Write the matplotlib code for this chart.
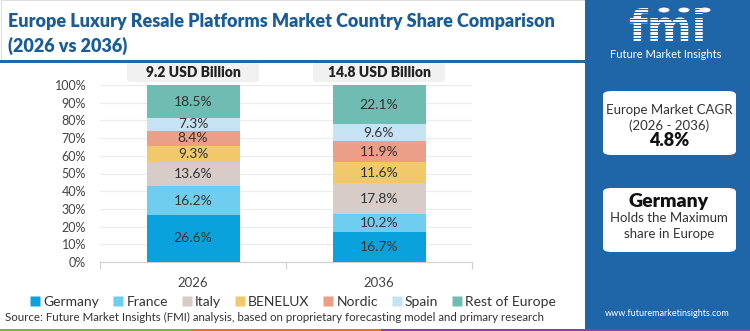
import matplotlib
matplotlib.use("Agg")
import matplotlib.pyplot as plt
from matplotlib.patches import FancyBboxPatch, Rectangle, Circle
from matplotlib.lines import Line2D
import numpy as np

# ---------------- data ----------------
years = ["2026", "2036"]
market_sizes = ["9.2 USD Billion", "14.8 USD Billion"]
segments = ["Germany", "France", "Italy", "BENELUX", "Nordic", "Spain", "Rest of Europe"]
germany = [26.6, 16.7]
france = [16.2, 10.2]
italy = [13.6, 17.8]
benelux = [9.3, 11.6]
nordic = [8.4, 11.9]
spain = [7.3, 9.6]
rest_of_europe = [18.5, 22.1]
series = [germany, france, italy, benelux, nordic, spain, rest_of_europe]
colors = ["#0aa2dc", "#6fcdf0", "#d7ccc8", "#f1c86a", "#ec9f88", "#c6e3f4", "#6fbcb3"]
yticks = list(range(0, 101, 10))
cagr_text = "4.8%"
leader = "Germany"

W, H = 750, 331
FONT = "Lato"
plt.rcParams["font.family"] = [FONT, "DejaVu Sans"]

fig = plt.figure(figsize=(W / 100, H / 100), dpi=100)
fig.patch.set_facecolor("white")


def fx(x):
    return x / W


def fy(y):
    return 1 - y / H


# ---------------- background decorations ----------------
fig.add_artist(Rectangle((fx(0.5), fy(60)), fx(585), 60 / H, transform=fig.transFigure,
                         facecolor="white", edgecolor="#dddddd", lw=0.8, zorder=0))
fig.add_artist(Rectangle((fx(0), fy(63)), fx(585), 3 / H, transform=fig.transFigure,
                         facecolor="#1d6aa5", edgecolor="none", zorder=1))
for x0, x1, c in [(0, 191, "#7cb342"), (191, 381, "#ee6a2f"), (381, 586, "#8e3fa0")]:
    fig.add_artist(Rectangle((fx(x0), 0), fx(x1 - x0), 2.5 / H, transform=fig.transFigure,
                             facecolor=c, edgecolor="none", zorder=1))
panel_blue = "#1f66a8"
fig.add_artist(Rectangle((fx(585), fy(329)), fx(165), 329 / H, transform=fig.transFigure,
                         facecolor=panel_blue, edgecolor="none", zorder=1))
fig.add_artist(Rectangle((fx(586), 0), fx(164), 2.5 / H, transform=fig.transFigure,
                         facecolor="#8e3fa0", edgecolor="none", zorder=1))

# ---------------- title ----------------
title_color = "#1a5d96"
fig.text(fx(8), fy(21), "Europe Luxury Resale Platforms Market Country Share Comparison",
         fontsize=13, fontweight="heavy", color=title_color, va="center", ha="left")
fig.text(fx(8), fy(46), "(2026 vs 2036)",
         fontsize=13, fontweight="heavy", color=title_color, va="center", ha="left")

# ---------------- chart ----------------
ax_left, ax_right = 100, 472
ax_top, ax_bottom = 85, 262
ax = fig.add_axes([fx(ax_left), fy(ax_bottom), fx(ax_right - ax_left), (ax_bottom - ax_top) / H])
x = np.arange(len(years))
bottom = np.zeros(len(years))
for name, vals, c in zip(segments, series, colors):
    vals = np.array(vals)
    ax.bar(x, vals, width=0.5, bottom=bottom, color=c, label=name, zorder=3)
    for xi, b, v in zip(x, bottom, vals):
        ax.text(xi, b + v / 2, f"{v:.1f}%", ha="center", va="center",
                fontsize=10, color="#333333", zorder=4)
    bottom += vals

ax.set_xlim(-0.5, 1.5)
ax.set_ylim(0, 100)
ax.set_yticks(yticks)
ax.set_yticklabels([f"{t}%" for t in yticks])
ax.set_xticks(x)
ax.set_xticklabels(years)
ax.set_xticks([-0.5, 0.5, 1.5], minor=True)
ax.tick_params(axis="y", length=0, pad=10, labelsize=9, labelcolor="#444444")
ax.tick_params(axis="x", which="major", length=0, pad=11, labelsize=9.5, labelcolor="#444444")
ax.tick_params(axis="x", which="minor", length=5, color="#d0d0d0", width=0.8)
ax.grid(axis="y", color="#ececec", lw=0.8, zorder=0)
for s in ["left", "right", "top"]:
    ax.spines[s].set_visible(False)
ax.spines["bottom"].set_color("#d0d0d0")
ax.patch.set_alpha(0)

# market size header boxes
for xi, label in zip(x, market_sizes):
    xc_px = ax.transData.transform((xi, 0))[0]
    bw, bh = 132, 19
    box = FancyBboxPatch((fx(xc_px - bw / 2), fy(82)), fx(bw), bh / H,
                         boxstyle="round,pad=0,rounding_size=0.006",
                         transform=fig.transFigure, facecolor="#f1f1f1",
                         edgecolor="none", zorder=2)
    fig.add_artist(box)
    fig.text(fx(xc_px), fy(72.5), label, ha="center", va="center", fontsize=10,
             fontweight="heavy", color="#222222")

# legend
handles = [Line2D([0], [0], marker="s", ls="none", markersize=7, markerfacecolor=c,
                  markeredgecolor="none") for c in colors]
fig.legend(handles, segments, loc="center", bbox_to_anchor=(fx(294), fy(302)), ncol=7,
           frameon=False, fontsize=10, handlelength=0.5, handletextpad=0.35,
           columnspacing=1.1, labelcolor="#333333", borderpad=0, borderaxespad=0)

# source
fig.text(fx(5), fy(317), "Source: Future Market Insights (FMI) analysis, based on proprietary "
         "forecasting model and primary research", fontsize=8.3, color="#333333",
         ha="left", va="center")

# ---------------- right panel content ----------------
fig.text(fx(667), fy(41), "fmi", fontsize=31, fontweight="heavy", color="white",
         ha="center", va="baseline", zorder=5, family="DejaVu Sans")
for yy in np.arange(9, 44, 3.2):
    fig.add_artist(Line2D([fx(605), fx(730)], [fy(yy), fy(yy)], transform=fig.transFigure,
                          color=panel_blue, lw=0.8, zorder=6))
for cx in [664, 684, 705]:
    fig.add_artist(Circle((fx(cx), fy(10)), 5.5 / W, transform=fig.transFigure,
                          facecolor="white", edgecolor="none", zorder=7))
fig.text(fx(666), fy(55), "Future Market Insights", fontsize=8, color="white",
         ha="center", va="center", zorder=7)

for (y0, y1) in [(91, 155), (188, 252)]:
    fig.add_artist(FancyBboxPatch((fx(603), fy(y1)), fx(133), (y1 - y0) / H,
                                  boxstyle="round,pad=0,rounding_size=0.012",
                                  transform=fig.transFigure, facecolor="white",
                                  edgecolor="none", zorder=5))
fig.text(fx(669), fy(110), "Europe Market CAGR", fontsize=9.5, color="#333333",
         ha="center", va="center", zorder=6)
fig.text(fx(669), fy(126), "(2026 - 2036)", fontsize=9.5, color="#333333",
         ha="center", va="center", zorder=6)
fig.text(fx(669), fy(140), cagr_text, fontsize=13, fontweight="heavy", color="#111111",
         ha="center", va="center", zorder=6)
fig.text(fx(669), fy(202), leader, fontsize=14, fontweight="heavy", color="#111111",
         ha="center", va="center", zorder=6)
fig.text(fx(669), fy(218), "Holds the Maximum", fontsize=9.5, color="#333333",
         ha="center", va="center", zorder=6)
fig.text(fx(669), fy(234), "share in Europe", fontsize=9.5, color="#333333",
         ha="center", va="center", zorder=6)
fig.text(fx(667), fy(313), "www.futuremarketinsights.com", fontsize=6.5, color="white",
         ha="center", va="center", zorder=6)

fig.savefig("out.png", dpi=100)
